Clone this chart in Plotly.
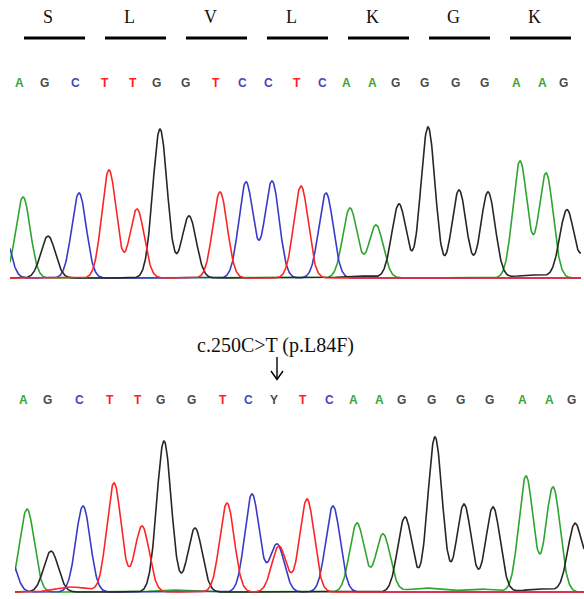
import numpy as np
import plotly.graph_objects as go

W, H = 584, 599

# ---------------- data ----------------
amino_acids = ["S", "L", "V", "L", "K", "G", "K"]

# base calls (reference / wild type, top panel)
top_calls = list("AGCTTGGTCCTCAAGGGGAAG")
top_call_pos = [23, 48, 79, 109, 137, 160, 189, 220, 246, 272, 301, 326, 350, 376,
                399, 428, 459, 488, 520, 546, 567]

# peaks of top trace (channel, scan position, intensity)
top_peak_ch = ["C", "A", "G", "C", "T", "T", "G", "G", "T", "C", "C", "T", "C", "A", "A",
               "G", "G", "G", "G", "A", "A", "G", "G", "G", "G"]
top_peak_pos = [2, 23, 48, 79, 109, 137, 160, 189, 220, 246, 272, 301, 326, 350, 376,
                399, 428, 459, 488, 520, 546, 567, 593, 358, 532]
top_peak_h = [55, 81, 42, 85, 108, 69, 149, 62, 86, 96, 97, 92, 85, 70, 53,
              74, 151, 88, 86, 117, 105, 68, 60, 2, 3]

# patient trace (bottom panel)
bot_calls = list("AGCTTGGTCYTCAAGGGGAAG")
bot_call_pos = [27, 51, 83, 114, 142, 164, 195, 227, 252, 278, 307, 333, 357, 383,
                405, 435, 464, 493, 526, 553, 575]

bot_peak_ch = ["C", "A", "G", "C", "T", "T", "G", "G", "T", "C", "C", "T", "T", "C", "A",
               "A", "G", "G", "G", "G", "A", "A", "G", "G", "T", "A", "A", "A", "G"]
bot_peak_pos = [8, 27, 51, 83, 114, 142, 164, 195, 227, 252, 277, 279, 307, 333, 357,
                383, 405, 435, 464, 493, 526, 553, 575, 597, 72, 170, 424, 479, 540]
bot_peak_h = [40, 83, 41, 86, 109, 66, 151, 64, 89, 98, 48, 46, 93, 86, 69,
              58, 75, 155, 88, 85, 116, 105, 68, 60, 5, 2, 4, 3, 3]

mutation_label = "c.250C>T (p.L84F)"
mutation_pos = 278

# ---------------- styling ----------------
trace_color = {"A": "#2ea52e", "C": "#3a3ac8", "G": "#262626", "T": "#ff2424"}
call_color = {"A": "#3aa53a", "C": "#4646c0", "G": "#4a4a4a", "T": "#ff2020", "Y": "#4a4a4a"}
draw_order = ["A", "C", "G", "T"]
SIGMA = 7.2


def channel_signal(x, ch, chs, pos, hts):
    y = np.zeros_like(x)
    for c, p, h in zip(chs, pos, hts):
        if c == ch:
            s = SIGMA if h > 10 else SIGMA * 2.2
            y += h * np.exp(-((x - p) ** 2) / (2 * s * s))
    return y


def py(p):  # pixel row -> paper y
    return 1 - p / H


fig = go.Figure()

panels = [
    dict(xa="x", ya="y", xr=(10, 581), chs=top_peak_ch, pos=top_peak_pos, hts=top_peak_h),
    dict(xa="x2", ya="y2", xr=(15, 584), chs=bot_peak_ch, pos=bot_peak_pos, hts=bot_peak_h),
]

for pn in panels:
    xs = np.linspace(pn["xr"][0], pn["xr"][1], 1200)
    for ch in draw_order:
        ys = channel_signal(xs, ch, pn["chs"], pn["pos"], pn["hts"])
        fig.add_trace(go.Scatter(x=xs, y=ys, mode="lines", xaxis=pn["xa"], yaxis=pn["ya"],
                                 line=dict(color=trace_color[ch], width=1.6),
                                 hoverinfo="skip", showlegend=False))

ax_common = dict(showgrid=False, zeroline=False, showticklabels=False, showline=False, ticks="")
fig.update_layout(
    width=W, height=H, margin=dict(l=0, r=0, t=0, b=0),
    paper_bgcolor="white", plot_bgcolor="white", showlegend=False,
    xaxis=dict(domain=[10 / W, 581 / W], range=[10, 581], **ax_common),
    yaxis=dict(domain=[py(286), py(110)], range=[-8, 168], **ax_common),
    xaxis2=dict(domain=[15 / W, 1], range=[15, 584], anchor="y2", **ax_common),
    yaxis2=dict(domain=[py(599), py(425)], range=[-7, 167], anchor="x2", **ax_common),
)

annotations = []
shapes = []

# amino acid labels with underlines
for i, aa in enumerate(amino_acids):
    cx = 48 + 81 * i
    annotations.append(dict(x=cx / W, y=py(17), xref="paper", yref="paper", text=aa,
                            showarrow=False, xanchor="center", yanchor="middle",
                            font=dict(family="Liberation Serif, Times New Roman, serif",
                                      size=18, color="#111")))
    x0 = 24 + 81 * i
    shapes.append(dict(type="line", xref="paper", yref="paper",
                       x0=x0 / W, x1=(x0 + 61) / W,
                       y0=py(38), y1=py(38), line=dict(color="black", width=3)))

base_font = dict(family="Liberation Sans Narrow, Arial Narrow, Liberation Sans, Arial, sans-serif", size=12)

for calls, cpos, xa, row in [(top_calls, top_call_pos, "x", 83), (bot_calls, bot_call_pos, "x2", 400)]:
    for b, p in zip(calls, cpos):
        annotations.append(dict(x=p, y=py(row), xref=xa, yref="paper", text="<b>%s</b>" % b,
                                showarrow=False, xanchor="center", yanchor="middle", xshift=-4,
                                font=dict(color=call_color[b], **base_font)))

# mutation label and arrow
annotations.append(dict(x=mutation_pos, y=py(345), xref="x2", yref="paper", text=mutation_label,
                        showarrow=False, xanchor="center", yanchor="middle", xshift=-3,
                        font=dict(family="Liberation Serif, Times New Roman, serif", size=20, color="#111")))
ax = mutation_pos - 1
shapes.append(dict(type="line", xref="x2", yref="paper", x0=ax, x1=ax, y0=py(357), y1=py(379),
                   line=dict(color="black", width=1.4)))
shapes.append(dict(type="path", xref="x2", yref="paper",
                   path="M %f,%f L %f,%f L %f,%f" % (ax - 6, py(371), ax, py(379.5), ax + 6, py(371)),
                   line=dict(color="black", width=1.4)))

fig.update_layout(annotations=annotations, shapes=shapes)
fig.write_html("out.html", config={"displayModeBar": False},
               post_script="document.body.style.margin='0px';document.body.style.padding='0px';"
                           "document.body.style.overflow='hidden';")
